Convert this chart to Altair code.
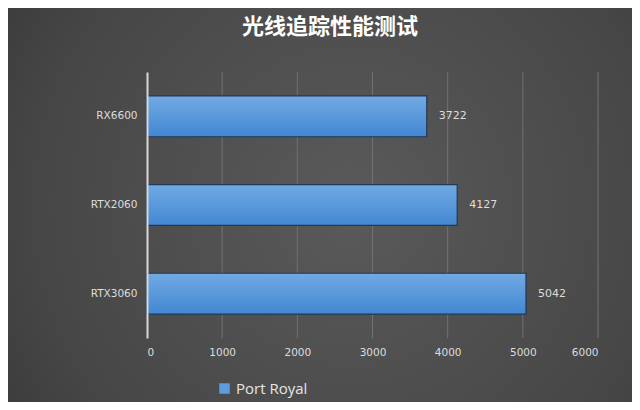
import altair as alt
import pandas as pd

categories = ["RX6600", "RTX2060", "RTX3060"]
values = [3722, 4127, 5042]
series = ["Port Royal"]
tick_values = [0, 1000, 2000, 3000, 4000, 5000, 6000]
title_text = "光线追踪性能测试"

df = pd.DataFrame({"gpu": categories, "score": values, "series": series * len(categories)})
ticks_df = pd.DataFrame({"tick": tick_values[1:]})
title_df = pd.DataFrame({"t": [title_text]})

W, H = 451, 266
PL, PT, PR, PB = 139, 64, 34, 64

y_enc = alt.Y("gpu:N", sort=categories,
              scale=alt.Scale(paddingInner=0.54, paddingOuter=0.27),
              axis=alt.Axis(title=None, labelColor="#dddddd", labelFontSize=10.5,
                            labelFont="DejaVu Sans", labelPadding=10, ticks=False,
                            domain=True, domainColor="#d8d8d8", domainWidth=2,
                            grid=False, zindex=1))
x_enc = alt.X("score:Q", scale=alt.Scale(domain=[0, 6000]),
              axis=alt.Axis(title=None, values=tick_values, format="d",
                            labelColor="#dddddd", labelFontSize=10.5, labelFont="DejaVu Sans",
                            labelPadding=9, ticks=False, domain=False,
                            grid=False, zindex=1))

bg = alt.Chart(df).mark_rect(
    fill=alt.RadialGradient(
        gradient="radial",
        stops=[alt.GradientStop(offset=0, color="#5a5a5a"),
               alt.GradientStop(offset=0.6, color="#464646"),
               alt.GradientStop(offset=1, color="#2e2e2e")],
        x1=0.55, y1=0.5, x2=0.55, y2=0.5, r1=0, r2=0.85)
).encode(x=alt.value(-PL), x2=alt.value(W + PR), y=alt.value(-PT), y2=alt.value(H + PB))

grid = alt.Chart(ticks_df).mark_rule(color="#727272", strokeWidth=1).encode(
    x=alt.X("tick:Q"), y=alt.value(0), y2=alt.value(H))

bars = alt.Chart(df).mark_bar(
    fill=alt.Gradient(
        gradient="linear",
        stops=[alt.GradientStop(offset=0, color="#71aae3"),
               alt.GradientStop(offset=1, color="#4387d2")],
        x1=0, x2=0, y1=0, y2=1),
    stroke="#22395a", strokeWidth=1.2
).encode(x=x_enc, y=y_enc)

labels = alt.Chart(df).mark_text(
    align="left", dx=12, color="#dddddd", fontSize=11, font="DejaVu Sans"
).encode(x="score:Q", y=alt.Y("gpu:N", sort=categories), text="score:Q")

title = alt.Chart(title_df).mark_text(
    font="Noto Sans CJK SC", fontSize=22, fontWeight="bold", color="#ffffff",
    align="center", baseline="middle"
).encode(x=alt.value(183), y=alt.value(-45), text="t:N")

legend_layer = alt.Chart(df).mark_square(size=0, opacity=0).encode(
    x="score:Q", y=alt.Y("gpu:N", sort=categories),
    color=alt.Color("series:N", scale=alt.Scale(range=["#5b9ddf"]),
                    legend=alt.Legend(title=None, orient="none", legendX=70, legendY=309,
                                      symbolType="square", symbolSize=110, symbolOpacity=1,
                                      symbolStrokeWidth=0, labelColor="#e6e6e6",
                                      labelFontSize=15, labelFont="Open Sans",
                                      labelOffset=4, zindex=1))
)

chart = alt.layer(bg, grid, bars, labels, title, legend_layer).properties(
    width=W, height=H,
    autosize=alt.AutoSizeParams(type="none"),
    padding={"left": PL, "top": PT, "right": PR, "bottom": PB},
    background="#3a3a3a"
).configure_view(stroke=None)

chart.save("out.html", embed_options={"renderer": "svg", "actions": False})
